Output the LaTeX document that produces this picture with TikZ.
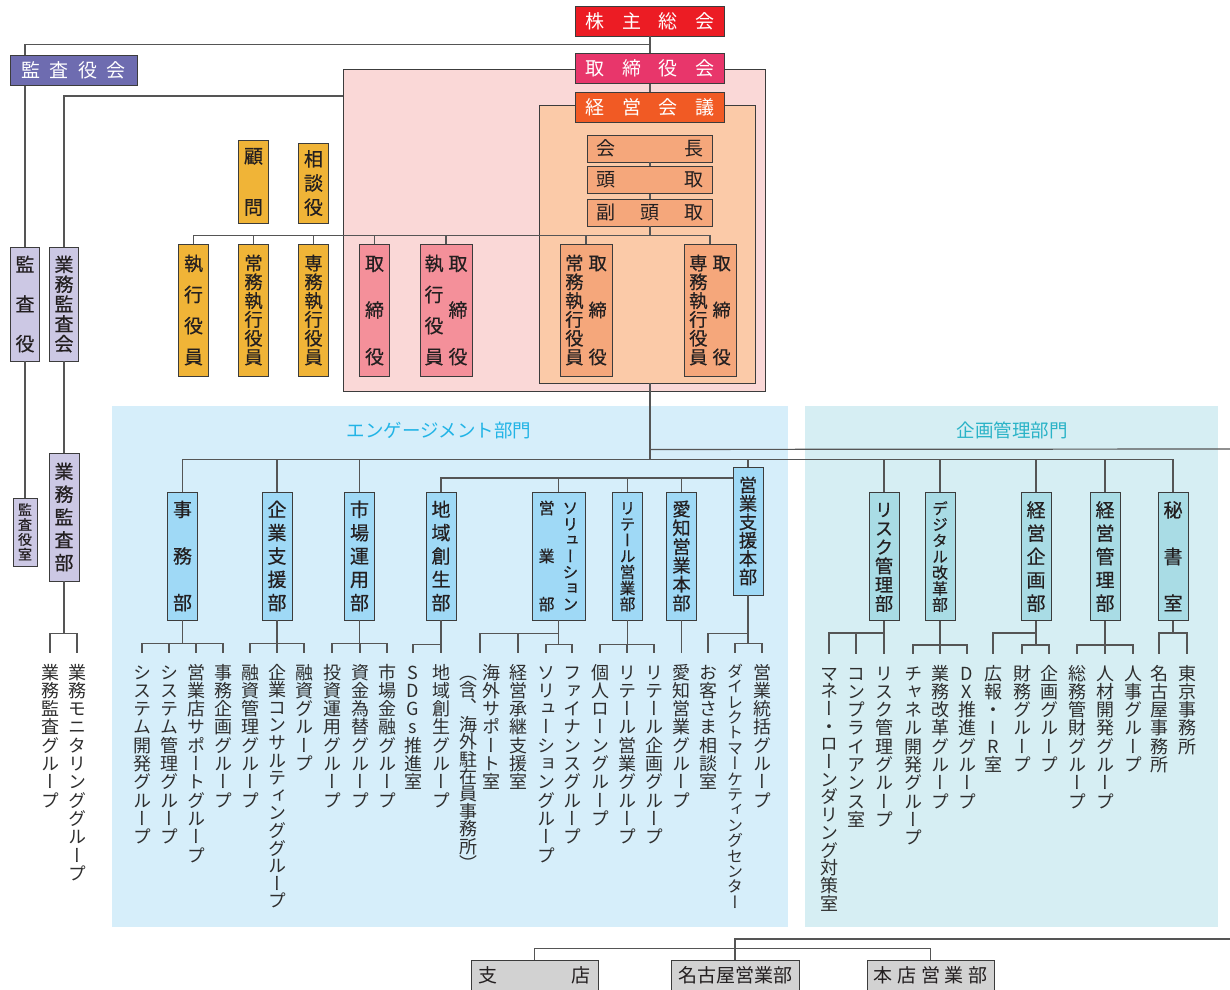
\documentclass[tikz,border=0pt]{standalone}
\usepackage{fontspec}
\setmainfont{Noto Sans CJK JP}
\newfontfamily\jpv{Noto Sans CJK JP}[RawFeature=+vert]
\newfontfamily\jpvb{Noto Sans CJK JP}[RawFeature=+vert, FakeBold=0.5]
\usetikzlibrary{calc}

\definecolor{lin}{HTML}{555555}
\definecolor{bdr}{HTML}{3C3C3C}
\definecolor{txt}{HTML}{231F20}
\definecolor{grptxt}{HTML}{2E2E2E}
\definecolor{soukaic}{HTML}{EC1C24}
\definecolor{torikaic}{HTML}{E8366B}
\definecolor{kaigic}{HTML}{F15A24}
\definecolor{kansakaic}{HTML}{6E6CB0}
\definecolor{lav}{HTML}{CCC8E4}
\definecolor{boardbg}{HTML}{FAD8D7}
\definecolor{kaigibg}{HTML}{FBCAA8}
\definecolor{salmon}{HTML}{F5A77B}
\definecolor{yel}{HTML}{F0B437}
\definecolor{pinkbox}{HTML}{F4909A}
\definecolor{engbg}{HTML}{D6EEFA}
\definecolor{planbg}{HTML}{D6EEF3}
\definecolor{engdept}{HTML}{9FD9F6}
\definecolor{plandept}{HTML}{A9DCE5}
\definecolor{englab}{HTML}{22B4E6}
\definecolor{planlab}{HTML}{2AB3C7}
\definecolor{gry}{HTML}{D2D2D2}

\def\chend{\chend}
\def\chbox#1{\hbox to 1em{\hss\vrule height .88em depth .12em width 0pt\raisebox{0pt}[0pt][0pt]{#1}\hss}}
\def\chloop#1{\chbox{#1}\chnext}
\def\chnext#1{\ifx#1\chend\else\chsep\expandafter\chloop\expandafter#1\fi}
\newcommand\vnat[2][18.3pt]{\vtop{\baselineskip=#1\lineskiplimit=-\maxdimen\let\chsep\relax\chloop#2\chend}}
\newcommand\vspr[2]{\vbox to #1{\offinterlineskip\let\chsep\vfill\chloop#2\chend}}
\newcommand\hspr[2]{\hbox to #1{\let\chbox\relax\let\chsep\hfill\chloop#2\chend}}

\tikzset{
  link/.style={draw=lin, line width=1.2pt},
  area/.style={draw=bdr, line width=0.9pt, inner sep=0pt},
  hbx/.style={draw=bdr, line width=0.9pt, inner sep=0pt, minimum height=30pt, text=txt, font=\fontsize{19}{20}\selectfont},
  vbx/.style={draw=bdr, line width=0.9pt, inner sep=0pt, minimum width=30pt, minimum height=128pt, text=txt, font=\fontsize{19}{19}\jpvb},
  six/.style={font=\fontsize{18.3}{19}\jpvb},
  narrow/.style={font=\fontsize{15.8}{16}\jpvb},
  dept/.style={vbx, fill=engdept},
  plan/.style={vbx, fill=plandept},
  grp/.style={anchor=north, inner xsep=0pt, inner ysep=10pt, text=grptxt, font=\fontsize{18}{18}\jpv}
}

\begin{document}
\begin{tikzpicture}[x=1pt,y=-1pt]
  \useasboundingbox (0,0) rectangle (1230,989);
  \clip (0,0) rectangle (1230,989);
  \fill[engbg] (112,406) rectangle (788,927);
  \fill[planbg] (805,406) rectangle (1218,927);
  \node[text=englab, font=\fontsize{18.5}{20}\selectfont] (engtitle) at (439,431) {エンゲージメント部門};
  \node[text=planlab, font=\fontsize{18.5}{20}\selectfont] (plantitle) at (1012,430) {企画管理部門};
  \node[area, fill=boardbg, minimum width=422pt, minimum height=322pt] (boardarea) at (554,230) {};
  \node[area, fill=kaigibg, minimum width=216pt, minimum height=278pt] (kaigiarea) at (647,244) {};

  \node[hbx, fill=soukaic, text=white, minimum width=149pt] (soukai) at (650,21) {\hspr{129pt}{株主総会}};
  \node[hbx, fill=torikaic, text=white, minimum width=149pt] (torikai) at (650,68.5) {\hspr{129pt}{取締役会}};
  \node[hbx, fill=kaigic, text=white, minimum width=149pt] (kaigi) at (650,107) {\hspr{129pt}{経営会議}};
  \node[hbx, fill=kansakaic, text=white, minimum width=127pt] (kansayakukai) at (73.5,70.5) {\hspr{105pt}{監査役会}};
  \node[hbx, fill=salmon, minimum width=125pt, minimum height=27pt] (kaicho) at (650,148.5) {\hspr{107pt}{会長}};
  \node[hbx, fill=salmon, minimum width=125pt, minimum height=27pt] (todori) at (650,180) {\hspr{107pt}{頭取}};
  \node[hbx, fill=salmon, minimum width=125pt, minimum height=27pt] (fukutodori) at (650,212.5) {\hspr{107pt}{副頭取}};

  \node[vbx, fill=yel, minimum height=83pt] (komon) at (253.5,181.5) {\vspr{68pt}{顧問}};
  \node[vbx, fill=yel, minimum height=80pt] (sodan) at (313.5,183) {\vspr{65pt}{相談役}};
  \node[vbx, fill=yel, minimum height=132pt] (shikko) at (193.5,310) {\vspr{110pt}{執行役員}};
  \node[vbx, six, fill=yel, minimum height=132pt] (jomu) at (253.5,310) {\vspr{110pt}{常務執行役員}};
  \node[vbx, six, fill=yel, minimum height=132pt] (senmu) at (313.5,310) {\vspr{110pt}{専務執行役員}};
  \node[vbx, fill=pinkbox, minimum height=132pt] (tori) at (374.5,310) {\vspr{110pt}{取締役}};
  \node[vbx, fill=pinkbox, minimum height=132pt, minimum width=52pt] (shikkotori) at (446,310) {\vspr{110pt}{執行役員}\kern5pt\vspr{110pt}{取締役}};
  \node[vbx, six, fill=salmon, minimum height=132pt, minimum width=52pt] (jomutori) at (586,310) {\vspr{110pt}{常務執行役員}\kern5pt\vspr{110pt}{取締役}};
  \node[vbx, six, fill=salmon, minimum height=132pt, minimum width=52pt] (senmutori) at (710,310) {\vspr{110pt}{専務執行役員}\kern5pt\vspr{110pt}{取締役}};

  \node[vbx, fill=lav, minimum width=29pt, minimum height=114pt] (kansayaku) at (25,304) {\vspr{96pt}{監査役}};
  \node[vbx, fill=lav, minimum width=29pt, minimum height=114pt] (gyomukansakai) at (64,304) {\vspr{96pt}{業務監査会}};
  \node[vbx, fill=lav, minimum width=24pt, minimum height=68pt, font=\fontsize{14}{14}\jpvb] (kansayakushitsu) at (25,532) {\vspr{57pt}{監査役室}};
  \node[vbx, fill=lav] (gyomukansabu) at (64,517) {\vspr{108pt}{業務監査部}};

  \node[dept] (jimu) at (182.5,556) {\vspr{110pt}{事務部}};
  \node[dept] (kigyo) at (277,556) {\vspr{110pt}{企業支援部}};
  \node[dept] (shijo) at (359.5,556) {\vspr{110pt}{市場運用部}};
  \node[dept] (chiiki) at (441,556) {\vspr{110pt}{地域創生部}};
  \node[dept, narrow, minimum width=53pt] (solution) at (558.5,556) {\vspr{110pt}{営業部}\kern8pt\vspr{110pt}{ソリューション}};
  \node[dept, narrow] (retail) at (627.5,556) {\vspr{110pt}{リテール営業部}};
  \node[dept, six] (aichi) at (681.5,556) {\vspr{110pt}{愛知営業本部}};
  \node[dept, six] (eigyoshien) at (748,531) {\vspr{108pt}{営業支援本部}};
  \node[plan, six] (risk) at (884,556.5) {\vspr{110pt}{リスク管理部}};
  \node[plan, narrow] (digital) at (940,556.5) {\vspr{110pt}{デジタル改革部}};
  \node[plan] (kikaku) at (1036,556.5) {\vspr{110pt}{経営企画部}};
  \node[plan] (kanri) at (1105,556.5) {\vspr{110pt}{経営管理部}};
  \node[plan] (hisho) at (1173,556.5) {\vspr{110pt}{秘書室}};

  \node[hbx, fill=gry, minimum width=127pt] (shiten) at (534.5,975) {\hspr{112pt}{支店}};
  \node[hbx, fill=gry, minimum width=128pt] (nagoya) at (735,975) {\hspr{114pt}{名古屋営業部}};
  \node[hbx, fill=gry, minimum width=127pt] (honten) at (930.5,975) {\hspr{114pt}{本店営業部}};

  \coordinate (audit) at (0,96);
  \coordinate (subbar) at (0,478);
  \coordinate (eastA) at (1230,449);
  \coordinate (eastB) at (1230,939);
  \coordinate (trunk) at (kaigi.south |- kaigiarea.south);

  \draw[link] (soukai) -- (torikai);
  \draw[link] (torikai) -- (kaigi);
  \draw[link] (soukai.south) -- ++(0,8) -| (kansayaku.north |- kansayakukai.north);
  \draw[link] (kansayakukai.south -| kansayaku.north) -- (kansayaku.north);
  \draw[link] (kansayaku) -- (kansayakushitsu);
  \draw[link] (boardarea.west |- audit) -| (gyomukansakai.north);
  \draw[link] (gyomukansakai) -- (gyomukansabu);
  \draw[link] (kaicho) -- (todori);
  \draw[link] (todori) -- (fukutodori);
  \foreach \n in {shikko,jomu,senmu,tori,shikkotori,jomutori,senmutori}
    \draw[link] (fukutodori.south) -- ++(0,9) -| (\n.north);
  \draw[link] (trunk) -- ++(0,76) coordinate (hub);
  \draw[link] (trunk) ++(0,66) -- (eastA);
  \foreach \n in {jimu,kigyo,shijo,eigyoshien,risk,digital,kikaku,kanri,hisho}
    \draw[link] (hub) -| (\n.north);
  \foreach \n in {chiiki,solution,retail,aichi}
    \draw[link] (eigyoshien.west |- subbar) -| (\n.north);
  \draw[link] (eastB) -| (nagoya.north);
  \draw[link] (shiten.north) -- ++(0,-11) -| (honten.north);

  \foreach \x/\t [count=\i] in {50/業務監査グループ,77/業務モニタリンググループ}
    {\node[grp] (kansa\i) at (\x,653) {\expandafter\vnat\expandafter{\t}};
     \draw[link] (gyomukansabu.south) -- ++(0,52) -| (kansa\i.north);}
  \foreach \x/\t [count=\i] in {142/システム開発グループ,169/システム管理グループ,196/営業店サポートグループ,223/事務企画グループ}
    {\node[grp] (jimu\i) at (\x,653) {\expandafter\vnat\expandafter{\t}};
     \draw[link] (jimu.south) -- ++(0,23) -| (jimu\i.north);}
  \foreach \x/\t [count=\i] in {250/融資管理グループ,304/融資グループ}
    {\node[grp] (kigyo\i) at (\x,653) {\expandafter\vnat\expandafter{\t}};
     \draw[link] (kigyo.south) -- ++(0,23) -| (kigyo\i.north);}
  \node[grp] (kigyo3) at (277,653) {\vnat[17.6pt]{企業コンサルティンググループ}};
  \draw[link] (kigyo.south) -- (kigyo3.north);
  \foreach \x/\t [count=\i] in {332/投資運用グループ,360/資金為替グループ,387/市場金融グループ}
    {\node[grp] (shijo\i) at (\x,653) {\expandafter\vnat\expandafter{\t}};
     \draw[link] (shijo.south) -- ++(0,23) -| (shijo\i.north);}
  \foreach \x/\t [count=\i] in {413/SDGs推進室,441/地域創生グループ}
    {\node[grp] (chiiki\i) at (\x,653) {\expandafter\vnat\expandafter{\t}};
     \draw[link] (chiiki.south) -- ++(0,24) -| (chiiki\i.north);}
  \node[grp] (sol1) at (480,653) {\vnat[17.4pt]{（含、海外駐在員事務所）}\kern5pt\vnat{海外サポート室}};
  \node[grp] (sol2) at (518,653) {\vnat{経営承継支援室}};
  \foreach \n in {sol1,sol2}
    \draw[link] (solution.south) -- ++(0,13) -| (\n.north);
  \foreach \x/\t [count=\i from 3] in {546/ソリューショングループ,572/ファイナンスグループ}
    {\node[grp] (sol\i) at (\x,653) {\expandafter\vnat\expandafter{\t}};
     \draw[link] (solution.south) -- ++(0,24) -| (sol\i.north);}
  \foreach \x/\t [count=\i] in {600/個人ローングループ,627/リテール営業グループ,654/リテール企画グループ}
    {\node[grp] (retail\i) at (\x,653) {\expandafter\vnat\expandafter{\t}};
     \draw[link] (retail.south) -- ++(0,24) -| (retail\i.north);}
  \node[grp] (aichi1) at (681.5,653) {\vnat{愛知営業グループ}};
  \draw[link] (aichi) -- (aichi1.north);
  \node[grp] (shien1) at (708,653) {\vnat{お客さま相談室}};
  \node[grp, font=\fontsize{16}{16}\jpv] (shien2) at (735,653) {\vnat[15.4pt]{ダイレクトマーケティングセンター}};
  \node[grp] (shien3) at (762,653) {\vnat{営業統括グループ}};
  \draw[link] (eigyoshien.south) -- ++(0,38) -| (shien1.north);
  \foreach \n in {shien2,shien3}
    \draw[link] (eigyoshien.south) -- ++(0,48) -| (\n.north);

  \node[grp] (risk1) at (829,654) {\vnat[17.7pt]{マネー・ローンダリング対策室}};
  \draw[link] (risk.south) -- ++(0,12) -| (risk1.north);
  \foreach \x/\t [count=\i from 2] in {856/コンプライアンス室,884/リスク管理グループ}
    {\node[grp] (risk\i) at (\x,654) {\expandafter\vnat\expandafter{\t}};
     \draw[link] (risk.south) -- ++(0,12) -| (risk\i.north);}
  \foreach \x/\t [count=\i] in {913/チャネル開発グループ,940/業務改革グループ,967/DX推進グループ}
    {\node[grp] (digital\i) at (\x,654) {\expandafter\vnat\expandafter{\t}};
     \draw[link] (digital.south) -- ++(0,24) -| (digital\i.north);}
  \node[grp] (kikaku1) at (993,654) {\vnat{広報・IR室}};
  \draw[link] (kikaku.south) -- ++(0,12) -| (kikaku1.north);
  \foreach \x/\t [count=\i from 2] in {1022/財務グループ,1049/企画グループ}
    {\node[grp] (kikaku\i) at (\x,654) {\expandafter\vnat\expandafter{\t}};
     \draw[link] (kikaku.south) -- ++(0,24) -| (kikaku\i.north);}
  \foreach \x/\t [count=\i] in {1077/総務管財グループ,1105/人材開発グループ,1133/人事グループ}
    {\node[grp] (kanri\i) at (\x,654) {\expandafter\vnat\expandafter{\t}};
     \draw[link] (kanri.south) -- ++(0,24) -| (kanri\i.north);}
  \foreach \x/\t [count=\i] in {1159/名古屋事務所,1187/東京事務所}
    {\node[grp] (hisho\i) at (\x,654) {\expandafter\vnat\expandafter{\t}};
     \draw[link] (hisho.south) -- ++(0,12) -| (hisho\i.north);}
\end{tikzpicture}
\end{document}
